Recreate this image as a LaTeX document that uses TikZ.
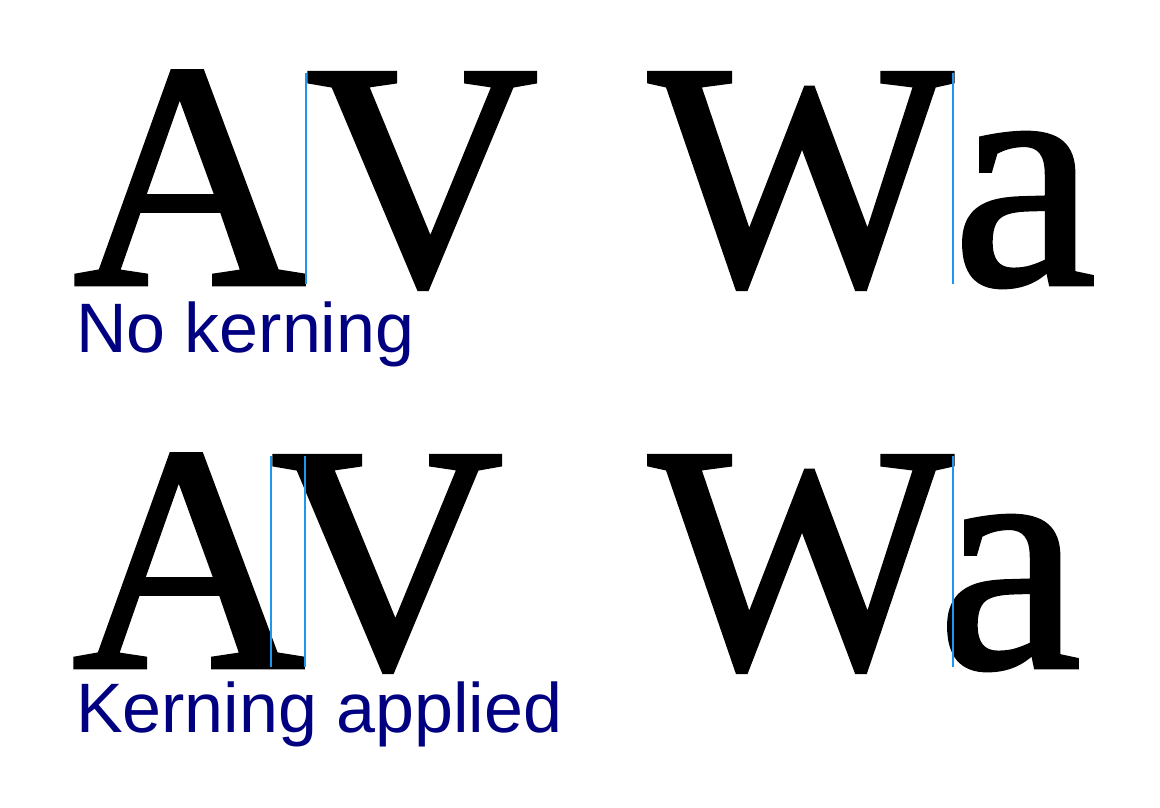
\documentclass[tikz,border=0pt]{standalone}
\usepackage{fontspec}
\setmainfont{Liberation Serif}
\newfontfamily\glyphfont{Liberation Serif}[FakeBold=1.4]
\newfontfamily\labelfont{Liberation Sans}
\usepackage{xcolor}
\usepackage{tikz}
\usetikzlibrary{positioning}
\definecolor{guideblue}{RGB}{30,150,240}
\definecolor{labelnavy}{RGB}{0,0,128}

\begin{document}
\begin{tikzpicture}[x=1pt, y=1pt, inner sep=0pt, outer sep=0pt,
    glyph/.style={font=\glyphfont\fontsize{322}{322}\selectfont},
    caption/.style={font=\labelfont\fontsize{70}{70}\selectfont, text=labelnavy, anchor=base west},
    guide/.style={draw=guideblue, line width=1.6pt}]
  \useasboundingbox (0,0) rectangle (1160,807);

  % no kerning
  \node[glyph, anchor=base east] (A1) at (306,523) {A};
  \node[glyph, base right=0pt of A1] (V1) {V};
  \node[glyph, anchor=base east] (W1) at (953,523) {W};
  \node[glyph, base right=0pt of W1] (a1) {a};
  \node[caption] (cap1) at (76,454) {No kerning};
  \draw[guide] (V1.base west) -- (V1.north west);
  \draw[guide] (W1.base east) -- (W1.north east);

  % kerning applied
  \node[glyph, anchor=base east] (A2) at (305,140) {A};
  \node[glyph, base right=-34pt of A2] (V2) {V};
  \node[glyph, anchor=base east] (W2) at (953,140) {W};
  \node[glyph, base right=-15pt of W2] (a2) {a};
  \node[caption] (cap2) at (76,75) {Kerning applied};
  \draw[guide] (A2.base east) -- (A2.base east |- V2.north);
  \draw[guide] (V2.base west) -- (V2.north west);
  \draw[guide] (W2.base east) -- (W2.north east);
\end{tikzpicture}
\end{document}
